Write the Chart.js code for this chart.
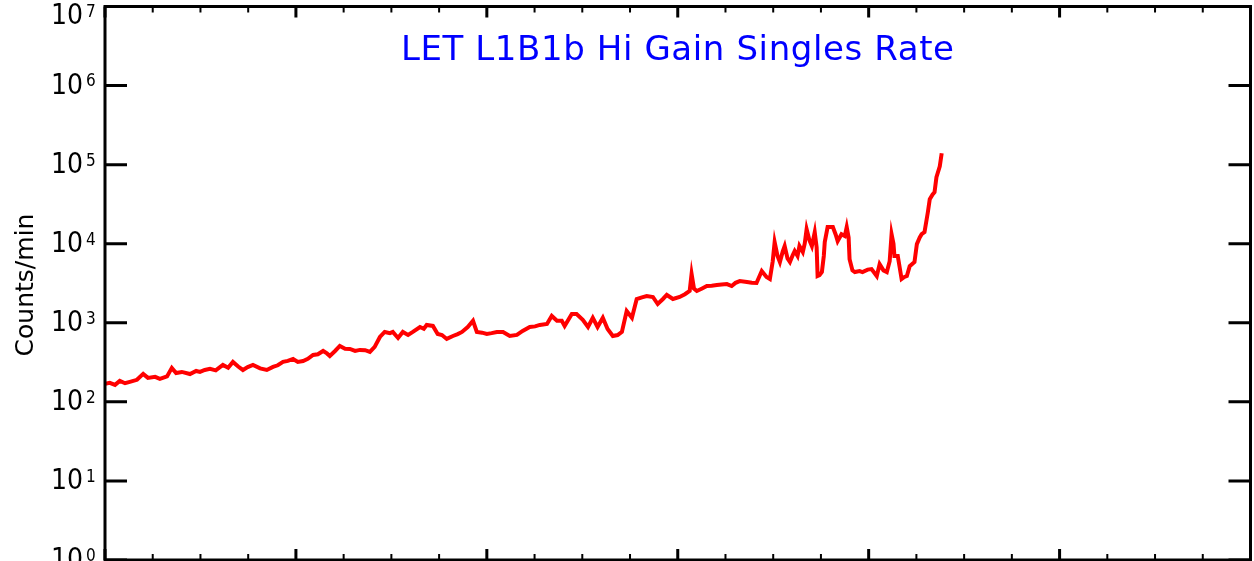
<!DOCTYPE html>
<html>
<head>
<meta charset="utf-8">
<script src="https://cdn.jsdelivr.net/npm/chart.js@4.4.1/dist/chart.umd.min.js"></script>
<style>
  html, body { margin: 0; padding: 0; background: #fff; }
  canvas { display: block; }
</style>
</head>
<body>
<canvas id="myChart" width="1254" height="561"></canvas>
<script>
// time axis (arbitrary units, 24 minor divisions) and counts/min
const timeX = [
  0, 0.10, 0.21, 0.31, 0.42, 0.52, 0.67, 0.80, 0.90, 1.05, 1.15, 1.30, 1.40, 1.49, 1.61, 1.78, 1.91, 1.99,
  2.09, 2.20, 2.32, 2.47, 2.58, 2.68, 2.79, 2.89, 2.99, 3.10, 3.25, 3.39, 3.52, 3.62, 3.73, 3.83, 3.94,
  4.04, 4.15, 4.25, 4.36, 4.46, 4.57, 4.65, 4.71, 4.82, 4.92, 5.03, 5.13, 5.24, 5.34, 5.45, 5.55, 5.65,
  5.76, 5.86, 5.97, 6.03, 6.14, 6.24, 6.35, 6.45, 6.60, 6.68, 6.74, 6.87, 6.97, 7.06, 7.16, 7.29, 7.39,
  7.48, 7.60, 7.71, 7.79, 7.90, 8.00, 8.10, 8.21, 8.34, 8.48, 8.63, 8.75, 8.90, 9.01, 9.11, 9.26, 9.36,
  9.47, 9.57, 9.63, 9.78, 9.88, 10.01, 10.12, 10.22, 10.32, 10.43, 10.53, 10.64, 10.74, 10.83, 10.93,
  11.04, 11.14, 11.25, 11.35, 11.48, 11.58, 11.69, 11.77, 11.90, 12.04, 12.15, 12.25, 12.29, 12.34,
  12.40, 12.50, 12.61, 12.71, 12.82, 12.92, 13.03, 13.13, 13.21, 13.30, 13.45, 13.55, 13.65, 13.76,
  13.86, 13.93, 13.99, 14.03, 14.09, 14.14, 14.20, 14.24, 14.30, 14.35, 14.41, 14.45, 14.51, 14.55,
  14.62, 14.66, 14.70, 14.76, 14.81, 14.87, 14.91, 14.93, 14.97, 15.02, 15.06, 15.08, 15.14, 15.25,
  15.31, 15.35, 15.43, 15.50, 15.54, 15.58, 15.60, 15.66, 15.71, 15.81, 15.87, 15.98, 16.06, 16.17,
  16.23, 16.31, 16.38, 16.44, 16.48, 16.52, 16.54, 16.61, 16.65, 16.69, 16.75, 16.80, 16.86, 16.96,
  17.01, 17.07, 17.11, 17.17, 17.24, 17.28, 17.34, 17.38, 17.42, 17.49, 17.53
];
const countsPerMin = [
  169, 174, 164, 184, 172, 179, 190, 226, 201, 207, 195, 210, 269, 232, 239, 225, 246, 239,
  253, 261, 250, 293, 270, 320, 280, 253, 275, 293, 265, 253, 277, 290, 320, 330, 349,
  320, 329, 350, 392, 400, 440, 410, 381, 440, 509, 470, 467, 440, 454, 450, 428, 495,
  662, 766, 740, 766, 643, 766, 702, 766, 885, 840, 939, 912, 723, 700, 625, 681, 720,
  766, 885, 1059, 766, 750, 723, 740, 766, 766, 681, 702, 789, 885, 900, 939, 967, 1219,
  1059, 1059, 912, 1292, 1292, 1091, 885, 1157, 885, 1157, 835, 681, 700, 766, 1410,
  1157, 2000, 2100, 2183, 2120, 1727, 2000, 2249, 2000, 2120, 2300, 2525, 4140, 2700,
  2525, 2700, 2918, 2950, 3002, 3050, 3091, 2918, 3200, 3373, 3276, 3200, 3184, 4510,
  3800, 3575, 6000, 10480, 7000, 5860, 8000, 9330, 6500, 5860, 7200, 8070, 7000, 9330,
  7840, 10000, 15280, 11000, 9330, 13990, 9000, 3900, 4000, 4380, 7000, 10480, 16220, 16220,
  13000, 10790, 13200, 12500, 16220, 12000, 6380, 4600, 4380, 4500, 4380, 4700, 4780, 3900,
  5520, 4600, 4380, 6000, 13200, 10000, 6970, 6970, 5000, 3575, 3800, 3900, 5210, 5860,
  9890, 12000, 13200, 13990, 25000, 36560, 42000, 44860, 69370, 95500, 139300
];
const decades = [0, 1, 2, 3, 4, 5, 6, 7];
const xTickValues = [0, 1, 2, 3, 4, 5, 6, 7, 8, 9, 10, 11, 12, 13, 14, 15, 16, 17, 18, 19, 20, 21, 22, 23, 24];
const chartTitle = 'LET L1B1b Hi Gain Singles Rate';
const yAxisTitle = 'Counts/min';

// draws the IDL style box, inward ticks and labels
const idlFrame = {
  id: 'idlFrame',
  beforeDraw(chart) {
    const ctx = chart.ctx;
    ctx.save();
    ctx.fillStyle = '#fff';
    ctx.fillRect(0, 0, chart.width, chart.height);
    ctx.restore();
  },
  afterDraw(chart) {
    const { ctx, chartArea: a } = chart;
    const x = chart.scales.x, y = chart.scales.y;
    ctx.save();
    ctx.strokeStyle = '#000';
    ctx.lineWidth = 3;
    ctx.strokeRect(a.left, a.top, a.right - a.left, a.bottom - a.top);

    decades.forEach(d => {
      const py = y.getPixelForValue(Math.pow(10, d));
      ctx.beginPath();
      ctx.moveTo(a.left, py); ctx.lineTo(a.left + 22, py);
      ctx.moveTo(a.right, py); ctx.lineTo(a.right - 22, py);
      ctx.stroke();
    });

    xTickValues.forEach(t => {
      const px = x.getPixelForValue(t);
      const major = t % 4 === 0;
      const len = major ? 11 : 6;
      ctx.lineWidth = major ? 3 : 2;
      ctx.beginPath();
      ctx.moveTo(px, a.bottom); ctx.lineTo(px, a.bottom - len);
      ctx.moveTo(px, a.top); ctx.lineTo(px, a.top + len);
      ctx.stroke();
    });

    // y tick labels: 10 with superscript exponent
    ctx.fillStyle = '#000';
    decades.forEach(d => {
      const ty = Math.max(y.getPixelForValue(Math.pow(10, d)), 16);
      ctx.font = '28px "Liberation Sans Narrow", "DejaVu Sans Condensed", sans-serif';
      ctx.textAlign = 'right';
      ctx.textBaseline = 'middle';
      ctx.fillText('10', 83, ty + 1);
      ctx.font = '17px "Liberation Sans Narrow", "DejaVu Sans Condensed", sans-serif';
      ctx.textAlign = 'left';
      ctx.textBaseline = 'top';
      ctx.fillText(String(d), 86, ty - 12);
    });

    // title inside the plot
    ctx.font = '34px "DejaVu Sans", sans-serif';
    ctx.letterSpacing = '0.6px';
    ctx.fillStyle = '#0000ff';
    ctx.textAlign = 'center';
    ctx.textBaseline = 'alphabetic';
    ctx.fillText(chartTitle, (a.left + a.right) / 2, 60);

    // y axis title
    ctx.letterSpacing = '0px';
    ctx.fillStyle = '#000';
    ctx.font = '25px "DejaVu Sans", sans-serif';
    ctx.translate(33, 285);
    ctx.rotate(-Math.PI / 2);
    ctx.fillText(yAxisTitle, 0, 0);
    ctx.restore();
  }
};

const config = {
  type: 'line',
  data: {
    datasets: [{
      label: chartTitle,
      data: timeX.map((t, i) => ({ x: t, y: countsPerMin[i] })),
      borderColor: '#ff0000',
      borderWidth: 4,
      borderJoinStyle: 'miter',
      pointRadius: 0,
      fill: false,
      tension: 0
    }]
  },
  options: {
    responsive: false,
    animation: false,
    layout: { padding: { left: 105, right: 3.5, top: 6.5, bottom: 1 } },
    plugins: { legend: { display: false }, tooltip: { enabled: false }, title: { display: false } },
    scales: {
      x: { type: 'linear', min: 0, max: 24, display: false },
      y: { type: 'logarithmic', min: 1, max: 1e7, display: false }
    }
  },
  plugins: [idlFrame]
};

const myChart = new Chart(document.getElementById('myChart'), config);
</script>
</body>
</html>
